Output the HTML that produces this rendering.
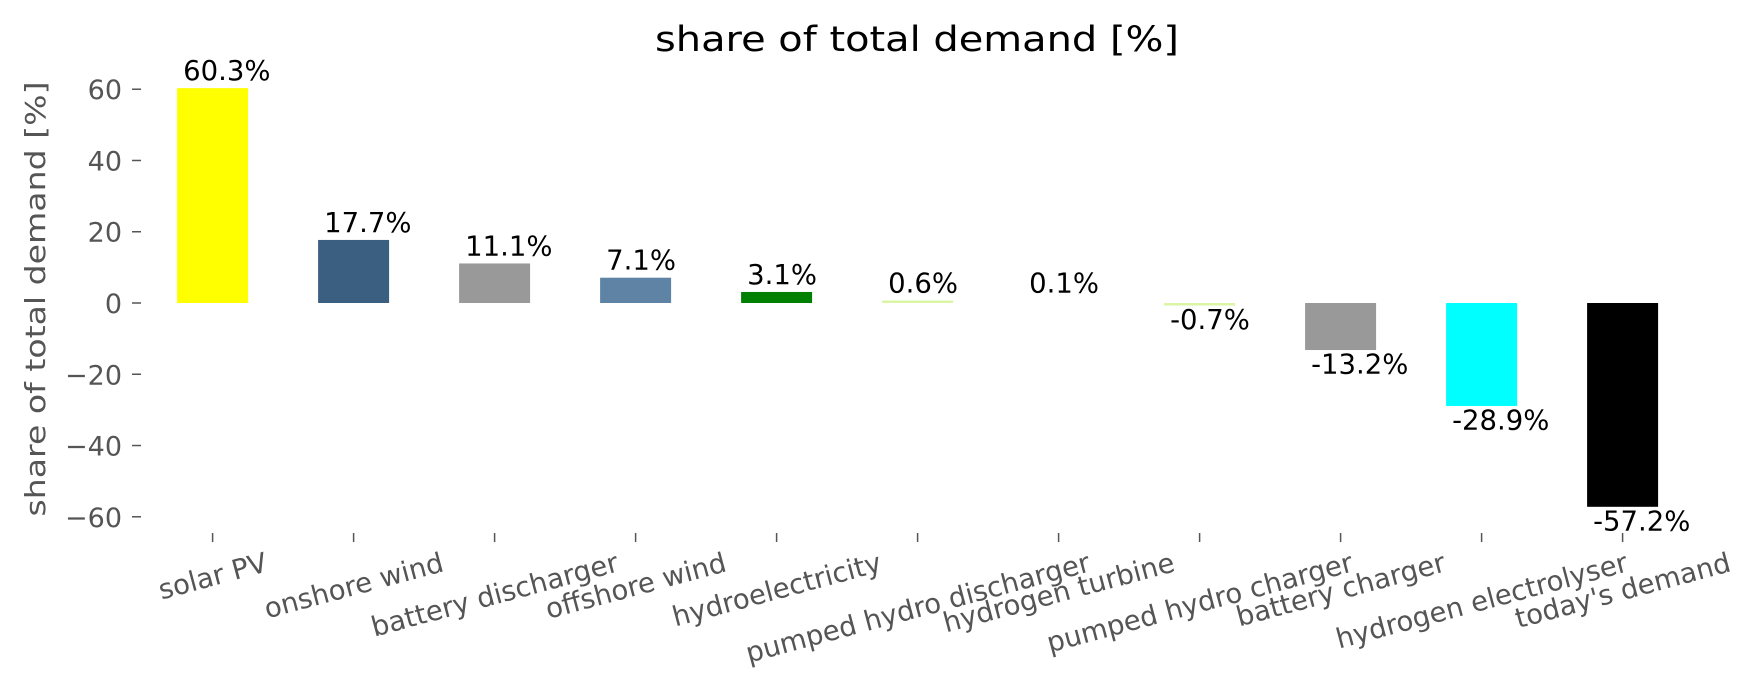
<!DOCTYPE html>
<html><head><meta charset="utf-8"><style>
html,body{margin:0;padding:0;background:#fff;width:1753px;height:689px;overflow:hidden}
svg text{font-family:"DejaVu Sans","Liberation Sans",sans-serif}
</style></head><body>
<svg id="s" width="1753" height="689" viewBox="0 0 1753 689" xmlns="http://www.w3.org/2000/svg">
<text x="917" y="51" font-size="35" text-anchor="middle" fill="#000" textLength="524" lengthAdjust="spacingAndGlyphs">share of total demand [%]</text>
<text transform="translate(45,299) rotate(-90)" font-size="28" text-anchor="middle" fill="#555" textLength="435" lengthAdjust="spacingAndGlyphs">share of total demand [%]</text>
<g id="g"></g>
</svg>
<script>
var g=document.getElementById('g'),NS='http://www.w3.org/2000/svg';
function el(t,a,txt){var e=document.createElementNS(NS,t);for(var k in a)e.setAttribute(k,a[k]);if(txt!=null)e.textContent=txt;g.appendChild(e);return e;}
var z=303,u=3.563,FS=27.5;
[60,40,20,0,-20,-40,-60].forEach(function(v){var y=z-v*u;
 el('line',{x1:132,x2:141,y1:y,y2:y,stroke:'#555','stroke-width':1.5});
 el('text',{x:122,y:y+10,'font-size':27,'text-anchor':'end',fill:'#555'},(v<0?'\u2212':'')+Math.abs(v));});
var d=[['solar PV',60.3,'#ffff00'],['onshore wind',17.7,'#3b5f80'],['battery discharger',11.1,'#999999'],['offshore wind',7.1,'#5f83a5'],['hydroelectricity',3.1,'#008000'],['pumped hydro discharger',0.6,'#d9f5a5'],['hydrogen turbine',0.1,'#ffffff'],['pumped hydro charger',-0.7,'#d9f5a5'],['battery charger',-13.2,'#999999'],['hydrogen electrolyser',-28.9,'#00ffff'],["today's demand",-57.2,'#000000']];
d.forEach(function(r,i){var cx=212.6+i*141,w=71,l=cx-w/2,v=r[1],h=Math.abs(v)*u,top=v>=0?z-h:z;
 if(h<2.5){h=2.5; if(v<0)top=z; else top=z-h;}
 el('rect',{x:l,y:top,width:w,height:h,fill:r[2]});
 var ty=v>=0?top-8:top+h+23.5;
 el('text',{x:l+6,y:ty,'font-size':FS,fill:'#000'},(v<0?'-':'')+Math.abs(v).toFixed(1)+'%');
 el('line',{x1:cx,x2:cx,y1:533,y2:542,stroke:'#555','stroke-width':1.5});
 var t=el('text',{'font-size':FS,fill:'#555','text-anchor':'middle'},r[0]);
 var L=t.getComputedTextLength(),s=Math.sin(15*Math.PI/180),c=Math.cos(15*Math.PI/180);
 var bh=L*s+FS*c,cy=548+bh/2;
 t.setAttribute('transform','translate('+cx+','+cy+') rotate(-15)');
 t.setAttribute('y',FS*0.36);});
</script>
</body></html>
